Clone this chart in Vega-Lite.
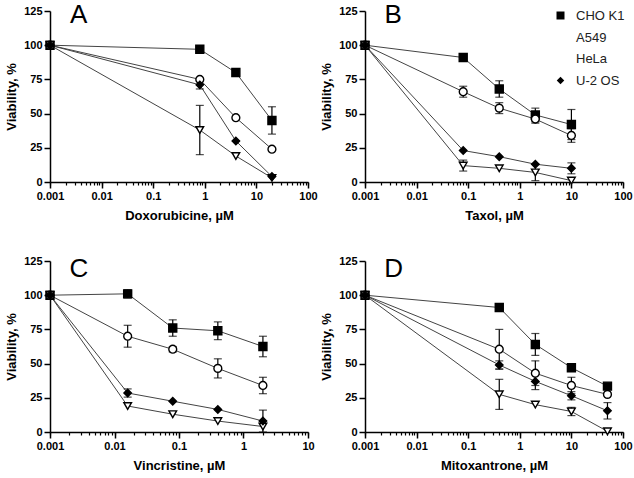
{
  "$schema": "https://vega.github.io/schema/vega-lite/v6.json",
  "background": "white",
  "padding": {"left": 5, "top": 2, "right": 5, "bottom": 5},
  "columns": 2,
  "bounds": "flush",
  "spacing": {"row": 79, "column": 57},
  "data": {"values": [
    {"p":"A","s":"CHO K1","c":0.001,"v":100},{"p":"A","s":"CHO K1","c":0.8,"v":97},{"p":"A","s":"CHO K1","c":4,"v":80},{"p":"A","s":"CHO K1","c":20,"v":45,"e":10},
    {"p":"A","s":"A549","c":0.001,"v":100},{"p":"A","s":"A549","c":0.8,"v":75},{"p":"A","s":"A549","c":4,"v":47},{"p":"A","s":"A549","c":20,"v":24},
    {"p":"A","s":"HeLa","c":0.001,"v":100},{"p":"A","s":"HeLa","c":0.8,"v":38,"e":18},{"p":"A","s":"HeLa","c":4,"v":19},{"p":"A","s":"HeLa","c":20,"v":3},
    {"p":"A","s":"U-2 OS","c":0.001,"v":100},{"p":"A","s":"U-2 OS","c":0.8,"v":71,"e":3},{"p":"A","s":"U-2 OS","c":4,"v":30},{"p":"A","s":"U-2 OS","c":20,"v":4},
    {"p":"B","s":"CHO K1","c":0.001,"v":100},{"p":"B","s":"CHO K1","c":0.08,"v":91},{"p":"B","s":"CHO K1","c":0.4,"v":68,"e":6},{"p":"B","s":"CHO K1","c":2,"v":49,"e":5},{"p":"B","s":"CHO K1","c":10,"v":42,"e":11},
    {"p":"B","s":"A549","c":0.001,"v":100},{"p":"B","s":"A549","c":0.08,"v":66,"e":4},{"p":"B","s":"A549","c":0.4,"v":54,"e":4},{"p":"B","s":"A549","c":2,"v":46,"e":3},{"p":"B","s":"A549","c":10,"v":34,"e":5},
    {"p":"B","s":"HeLa","c":0.001,"v":100},{"p":"B","s":"HeLa","c":0.08,"v":12,"e":4},{"p":"B","s":"HeLa","c":0.4,"v":10},{"p":"B","s":"HeLa","c":2,"v":7,"e":6},{"p":"B","s":"HeLa","c":10,"v":1},
    {"p":"B","s":"U-2 OS","c":0.001,"v":100},{"p":"B","s":"U-2 OS","c":0.08,"v":23},{"p":"B","s":"U-2 OS","c":0.4,"v":18.5},{"p":"B","s":"U-2 OS","c":2,"v":13},{"p":"B","s":"U-2 OS","c":10,"v":10,"e":4},
    {"p":"C","s":"CHO K1","c":0.001,"v":100},{"p":"C","s":"CHO K1","c":0.016,"v":101,"e":3},{"p":"C","s":"CHO K1","c":0.08,"v":76,"e":6},{"p":"C","s":"CHO K1","c":0.4,"v":74,"e":6.5},{"p":"C","s":"CHO K1","c":2,"v":62.5,"e":7.5},
    {"p":"C","s":"A549","c":0.001,"v":100},{"p":"C","s":"A549","c":0.016,"v":70,"e":8},{"p":"C","s":"A549","c":0.08,"v":60.5,"e":2},{"p":"C","s":"A549","c":0.4,"v":46.5,"e":7},{"p":"C","s":"A549","c":2,"v":34,"e":6},
    {"p":"C","s":"HeLa","c":0.001,"v":100},{"p":"C","s":"HeLa","c":0.016,"v":19},{"p":"C","s":"HeLa","c":0.08,"v":13},{"p":"C","s":"HeLa","c":0.4,"v":8},{"p":"C","s":"HeLa","c":2,"v":4},
    {"p":"C","s":"U-2 OS","c":0.001,"v":100},{"p":"C","s":"U-2 OS","c":0.016,"v":28.5,"e":3},{"p":"C","s":"U-2 OS","c":0.08,"v":22.5},{"p":"C","s":"U-2 OS","c":0.4,"v":16.5},{"p":"C","s":"U-2 OS","c":2,"v":8,"e":8},
    {"p":"D","s":"CHO K1","c":0.001,"v":100},{"p":"D","s":"CHO K1","c":0.4,"v":91},{"p":"D","s":"CHO K1","c":2,"v":64,"e":8},{"p":"D","s":"CHO K1","c":10,"v":47},{"p":"D","s":"CHO K1","c":50,"v":33.5},
    {"p":"D","s":"A549","c":0.001,"v":100},{"p":"D","s":"A549","c":0.4,"v":60.5,"e":14.5},{"p":"D","s":"A549","c":2,"v":43,"e":9},{"p":"D","s":"A549","c":10,"v":34,"e":6},{"p":"D","s":"A549","c":50,"v":27.5},
    {"p":"D","s":"HeLa","c":0.001,"v":100},{"p":"D","s":"HeLa","c":0.4,"v":27.5,"e":11},{"p":"D","s":"HeLa","c":2,"v":20},{"p":"D","s":"HeLa","c":10,"v":15,"e":3},{"p":"D","s":"HeLa","c":50,"v":0.5},
    {"p":"D","s":"U-2 OS","c":0.001,"v":100},{"p":"D","s":"U-2 OS","c":0.4,"v":49,"e":3},{"p":"D","s":"U-2 OS","c":2,"v":37,"e":6},{"p":"D","s":"U-2 OS","c":10,"v":26.5,"e":3},{"p":"D","s":"U-2 OS","c":50,"v":15.5,"e":6}
  ]},
  "resolve": {
    "scale": {"color": "shared", "shape": "shared", "fill": "shared", "size": "shared"},
    "legend": {"color": "shared", "shape": "shared", "fill": "shared", "size": "shared"}
  },
  "concat": [
    {
      "width": 258, "height": 171,
      "resolve": {"scale": {"x": "independent"}, "axis": {"x": "independent"}},
      "layer": [
        {
          "transform": [{"filter": "datum.p == 'A'"}],
          "encoding": {
            "x": {"field": "c", "type": "quantitative", "scale": {"type": "log", "domain": [0.001, 100], "nice": false},
                  "axis": {"title": "Doxorubicine, µM", "format": "~g", "labelOverlap": false, "labelFlush": false, "values": [0.001, 0.01, 0.1, 1, 10, 100]}},
            "y": {"field": "v", "type": "quantitative", "scale": {"domain": [0, 125], "nice": false}, "axis": {"title": "Viability, %", "values": [0, 25, 50, 75, 100, 125]}}
          },
          "layer": [
            {"mark": {"type": "line", "strokeWidth": 1},
             "encoding": {"color": {"field": "s", "type": "nominal", "sort": ["CHO K1", "A549", "HeLa", "U-2 OS"], "scale": {"range": ["#444", "#444", "#444", "#444"]}, "legend": null}}},
            {"transform": [{"filter": "datum.e > 0"}],
             "mark": {"type": "errorbar", "color": "black", "thickness": 1.2, "ticks": {"size": 8, "color": "black", "thickness": 1.2}},
             "encoding": {"yError": {"field": "e"}}},
            {"mark": {"type": "point", "filled": true, "stroke": "black", "strokeWidth": 1.4, "opacity": 1},
             "encoding": {
               "shape": {"field": "s", "type": "nominal", "scale": {"domain": ["CHO K1", "A549", "HeLa", "U-2 OS"], "range": ["square", "circle", "triangle-down", "diamond"]},
                         "legend": {"title": null, "orient": "none", "legendX": 504, "legendY": -2, "labelOffset": 9, "rowPadding": 7, "labelFontSize": 13, "symbolStrokeColor": "black", "symbolStrokeWidth": 1.4}},
               "fill": {"field": "s", "type": "nominal", "scale": {"domain": ["CHO K1", "A549", "HeLa", "U-2 OS"], "range": ["black", "white", "white", "black"]},
                        "legend": {"title": null, "orient": "none", "legendX": 504, "legendY": -2, "labelOffset": 9, "rowPadding": 7, "labelFontSize": 13, "symbolStrokeColor": "black", "symbolStrokeWidth": 1.4}},
               "size": {"field": "s", "type": "ordinal", "scale": {"domain": ["CHO K1", "A549", "HeLa", "U-2 OS"], "range": [64, 56, 90, 45]},
                        "legend": {"title": null, "orient": "none", "legendX": 504, "legendY": -2, "labelOffset": 9, "rowPadding": 7, "labelFontSize": 13, "symbolStrokeColor": "black", "symbolStrokeWidth": 1.4}}
             }}
          ]
        },
        {"data": {"values": [{"t": "A"}]},
         "mark": {"type": "text", "font": "Liberation Sans", "fontSize": 26, "align": "center", "baseline": "alphabetic", "color": "black"},
         "encoding": {
           "x": {"datum": 0.0036, "type": "quantitative", "scale": {"type": "log", "domain": [0.001, 100], "nice": false},
                 "axis": {"orient": "bottom", "title": null, "labels": false, "domain": false, "tickSize": 3, "tickWidth": 1.2,
                          "values": [0.001,0.002,0.003,0.004,0.005,0.006,0.007,0.008,0.009,0.01,0.02,0.03,0.04,0.05,0.06,0.07,0.08,0.09,0.1,0.2,0.3,0.4,0.5,0.6,0.7,0.8,0.9,1,2,3,4,5,6,7,8,9,10,20,30,40,50,60,70,80,90,100]}},
           "y": {"datum": 116, "type": "quantitative", "scale": {"domain": [0, 125], "nice": false}, "axis": {"title": "Viability, %", "values": [0, 25, 50, 75, 100, 125]}},
           "text": {"field": "t"}}}
      ]
    },
    {
      "width": 258, "height": 171,
      "resolve": {"scale": {"x": "independent"}, "axis": {"x": "independent"}},
      "layer": [
        {
          "transform": [{"filter": "datum.p == 'B'"}],
          "encoding": {
            "x": {"field": "c", "type": "quantitative", "scale": {"type": "log", "domain": [0.001, 100], "nice": false},
                  "axis": {"title": "Taxol, µM", "format": "~g", "labelOverlap": false, "labelFlush": false, "values": [0.001, 0.01, 0.1, 1, 10, 100]}},
            "y": {"field": "v", "type": "quantitative", "scale": {"domain": [0, 125], "nice": false}, "axis": {"title": "Viability, %", "values": [0, 25, 50, 75, 100, 125]}}
          },
          "layer": [
            {"mark": {"type": "line", "strokeWidth": 1},
             "encoding": {"color": {"field": "s", "type": "nominal", "sort": ["CHO K1", "A549", "HeLa", "U-2 OS"], "scale": {"range": ["#444", "#444", "#444", "#444"]}, "legend": null}}},
            {"transform": [{"filter": "datum.e > 0"}],
             "mark": {"type": "errorbar", "color": "black", "thickness": 1.2, "ticks": {"size": 8, "color": "black", "thickness": 1.2}},
             "encoding": {"yError": {"field": "e"}}},
            {"mark": {"type": "point", "filled": true, "stroke": "black", "strokeWidth": 1.4, "opacity": 1},
             "encoding": {
               "shape": {"field": "s", "type": "nominal", "scale": {"domain": ["CHO K1", "A549", "HeLa", "U-2 OS"], "range": ["square", "circle", "triangle-down", "diamond"]}},
               "fill": {"field": "s", "type": "nominal", "scale": {"domain": ["CHO K1", "A549", "HeLa", "U-2 OS"], "range": ["black", "white", "white", "black"]}},
               "size": {"field": "s", "type": "ordinal", "scale": {"domain": ["CHO K1", "A549", "HeLa", "U-2 OS"], "range": [64, 56, 90, 45]}}
             }}
          ]
        },
        {"data": {"values": [{"t": "B"}]},
         "mark": {"type": "text", "font": "Liberation Sans", "fontSize": 26, "align": "center", "baseline": "alphabetic", "color": "black"},
         "encoding": {
           "x": {"datum": 0.0035, "type": "quantitative", "scale": {"type": "log", "domain": [0.001, 100], "nice": false},
                 "axis": {"orient": "bottom", "title": null, "labels": false, "domain": false, "tickSize": 3, "tickWidth": 1.2,
                          "values": [0.001,0.002,0.003,0.004,0.005,0.006,0.007,0.008,0.009,0.01,0.02,0.03,0.04,0.05,0.06,0.07,0.08,0.09,0.1,0.2,0.3,0.4,0.5,0.6,0.7,0.8,0.9,1,2,3,4,5,6,7,8,9,10,20,30,40,50,60,70,80,90,100]}},
           "y": {"datum": 116, "type": "quantitative", "scale": {"domain": [0, 125], "nice": false}, "axis": {"title": "Viability, %", "values": [0, 25, 50, 75, 100, 125]}},
           "text": {"field": "t"}}}
      ]
    },
    {
      "width": 258, "height": 171,
      "resolve": {"scale": {"x": "independent"}, "axis": {"x": "independent"}},
      "layer": [
        {
          "transform": [{"filter": "datum.p == 'C'"}],
          "encoding": {
            "x": {"field": "c", "type": "quantitative", "scale": {"type": "log", "domain": [0.001, 10], "nice": false},
                  "axis": {"title": "Vincristine, µM", "format": "~g", "labelOverlap": false, "labelFlush": false, "values": [0.001, 0.01, 0.1, 1, 10]}},
            "y": {"field": "v", "type": "quantitative", "scale": {"domain": [0, 125], "nice": false}, "axis": {"title": "Viability, %", "values": [0, 25, 50, 75, 100, 125]}}
          },
          "layer": [
            {"mark": {"type": "line", "strokeWidth": 1},
             "encoding": {"color": {"field": "s", "type": "nominal", "sort": ["CHO K1", "A549", "HeLa", "U-2 OS"], "scale": {"range": ["#444", "#444", "#444", "#444"]}, "legend": null}}},
            {"transform": [{"filter": "datum.e > 0"}],
             "mark": {"type": "errorbar", "color": "black", "thickness": 1.2, "ticks": {"size": 8, "color": "black", "thickness": 1.2}},
             "encoding": {"yError": {"field": "e"}}},
            {"mark": {"type": "point", "filled": true, "stroke": "black", "strokeWidth": 1.4, "opacity": 1},
             "encoding": {
               "shape": {"field": "s", "type": "nominal", "scale": {"domain": ["CHO K1", "A549", "HeLa", "U-2 OS"], "range": ["square", "circle", "triangle-down", "diamond"]}},
               "fill": {"field": "s", "type": "nominal", "scale": {"domain": ["CHO K1", "A549", "HeLa", "U-2 OS"], "range": ["black", "white", "white", "black"]}},
               "size": {"field": "s", "type": "ordinal", "scale": {"domain": ["CHO K1", "A549", "HeLa", "U-2 OS"], "range": [64, 56, 90, 45]}}
             }}
          ]
        },
        {"data": {"values": [{"t": "C"}]},
         "mark": {"type": "text", "font": "Liberation Sans", "fontSize": 26, "align": "center", "baseline": "alphabetic", "color": "black"},
         "encoding": {
           "x": {"datum": 0.0028, "type": "quantitative", "scale": {"type": "log", "domain": [0.001, 10], "nice": false},
                 "axis": {"orient": "bottom", "title": null, "labels": false, "domain": false, "tickSize": 3, "tickWidth": 1.2,
                          "values": [0.001,0.002,0.003,0.004,0.005,0.006,0.007,0.008,0.009,0.01,0.02,0.03,0.04,0.05,0.06,0.07,0.08,0.09,0.1,0.2,0.3,0.4,0.5,0.6,0.7,0.8,0.9,1,2,3,4,5,6,7,8,9,10]}},
           "y": {"datum": 113, "type": "quantitative", "scale": {"domain": [0, 125], "nice": false}, "axis": {"title": "Viability, %", "values": [0, 25, 50, 75, 100, 125]}},
           "text": {"field": "t"}}}
      ]
    },
    {
      "width": 258, "height": 171,
      "resolve": {"scale": {"x": "independent"}, "axis": {"x": "independent"}},
      "layer": [
        {
          "transform": [{"filter": "datum.p == 'D'"}],
          "encoding": {
            "x": {"field": "c", "type": "quantitative", "scale": {"type": "log", "domain": [0.001, 100], "nice": false},
                  "axis": {"title": "Mitoxantrone, µM", "format": "~g", "labelOverlap": false, "labelFlush": false, "values": [0.001, 0.01, 0.1, 1, 10, 100]}},
            "y": {"field": "v", "type": "quantitative", "scale": {"domain": [0, 125], "nice": false}, "axis": {"title": "Viability, %", "values": [0, 25, 50, 75, 100, 125]}}
          },
          "layer": [
            {"mark": {"type": "line", "strokeWidth": 1},
             "encoding": {"color": {"field": "s", "type": "nominal", "sort": ["CHO K1", "A549", "HeLa", "U-2 OS"], "scale": {"range": ["#444", "#444", "#444", "#444"]}, "legend": null}}},
            {"transform": [{"filter": "datum.e > 0"}],
             "mark": {"type": "errorbar", "color": "black", "thickness": 1.2, "ticks": {"size": 8, "color": "black", "thickness": 1.2}},
             "encoding": {"yError": {"field": "e"}}},
            {"mark": {"type": "point", "filled": true, "stroke": "black", "strokeWidth": 1.4, "opacity": 1},
             "encoding": {
               "shape": {"field": "s", "type": "nominal", "scale": {"domain": ["CHO K1", "A549", "HeLa", "U-2 OS"], "range": ["square", "circle", "triangle-down", "diamond"]}},
               "fill": {"field": "s", "type": "nominal", "scale": {"domain": ["CHO K1", "A549", "HeLa", "U-2 OS"], "range": ["black", "white", "white", "black"]}},
               "size": {"field": "s", "type": "ordinal", "scale": {"domain": ["CHO K1", "A549", "HeLa", "U-2 OS"], "range": [64, 56, 90, 45]}}
             }}
          ]
        },
        {"data": {"values": [{"t": "D"}]},
         "mark": {"type": "text", "font": "Liberation Sans", "fontSize": 26, "align": "center", "baseline": "alphabetic", "color": "black"},
         "encoding": {
           "x": {"datum": 0.0036, "type": "quantitative", "scale": {"type": "log", "domain": [0.001, 100], "nice": false},
                 "axis": {"orient": "bottom", "title": null, "labels": false, "domain": false, "tickSize": 3, "tickWidth": 1.2,
                          "values": [0.001,0.002,0.003,0.004,0.005,0.006,0.007,0.008,0.009,0.01,0.02,0.03,0.04,0.05,0.06,0.07,0.08,0.09,0.1,0.2,0.3,0.4,0.5,0.6,0.7,0.8,0.9,1,2,3,4,5,6,7,8,9,10,20,30,40,50,60,70,80,90,100]}},
           "y": {"datum": 113, "type": "quantitative", "scale": {"domain": [0, 125], "nice": false}, "axis": {"title": "Viability, %", "values": [0, 25, 50, 75, 100, 125]}},
           "text": {"field": "t"}}}
      ]
    }
  ],
  "config": {
    "view": {"stroke": null},
    "axis": {"grid": false, "domainColor": "black", "domainWidth": 1.5, "tickColor": "black", "tickWidth": 1.5, "tickSize": 6,
             "labelFont": "Liberation Sans", "labelFontSize": 11, "labelFontWeight": "bold", "labelColor": "black", "labelPadding": 2,
             "titleFont": "Liberation Sans", "titleFontSize": 13, "titleFontWeight": "bold", "titleColor": "black"},
    "axisX": {"titlePadding": 8},
    "axisY": {"titlePadding": 5},
    "legend": {"labelFont": "Liberation Sans", "labelFontSize": 13, "labelColor": "#222"}
  }
}
